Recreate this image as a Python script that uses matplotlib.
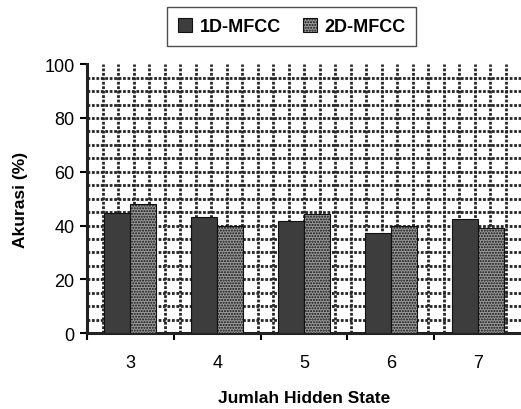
import matplotlib.pyplot as plt
import numpy as np

hidden_states = ["3", "4", "5", "6", "7"]
mfcc_1d = [44.6, 43.3, 41.8, 37.2, 42.5]
mfcc_2d = [48.0, 39.7, 44.3, 39.7, 39.0]
y_ticks = [0, 20, 40, 60, 80, 100]

plt.rcParams['font.family'] = ['Liberation Sans', 'DejaVu Sans']

fig = plt.figure(figsize=(5.21, 4.10), dpi=100)
ax = fig.add_axes([0.167, 0.185, 0.833, 0.656])

x = np.arange(len(hidden_states))
w = 0.3

# background pattern grid (like the Excel "large grid" fill)
for yv in np.arange(5, 100, 5):
    ax.axhline(yv, color='#262626', lw=2.0, ls=(0, (1.0, 0.6)), zorder=0)
for xv in np.linspace(-0.5, 4.5, 29)[1:-1]:
    ax.axvline(xv, color='#262626', lw=2.0, ls=(0, (1.0, 0.6)), zorder=0)

ax.bar(x - w / 2, mfcc_1d, w, color='#3d3d3d', edgecolor='#111111', lw=0.8,
       label='1D-MFCC', zorder=3)
ax.bar(x + w / 2, mfcc_2d, w, color='#9a9a9a', edgecolor='#111111', lw=0.8,
       label='2D-MFCC', zorder=3, hatch='......')

ax.set_xlim(-0.5, 4.5)
ax.set_ylim(0, 100)
ax.set_yticks(y_ticks)
ax.set_xticks(x)
ax.set_xticklabels(hidden_states)
ax.set_xticks(np.arange(-0.5, 4.5, 1), minor=True)
ax.tick_params(axis='x', which='major', length=0, pad=15, labelsize=13)
ax.tick_params(axis='x', which='minor', length=5, width=1.5, direction='out')
ax.tick_params(axis='y', length=5, width=1.5, labelsize=13, pad=4)

for s in ['left', 'bottom']:
    ax.spines[s].set_linewidth(2.2)
    ax.spines[s].set_color('#222222')
ax.spines['top'].set_visible(False)
ax.spines['right'].set_visible(False)

ax.set_ylabel('Akurasi (%)', fontsize=12.5, fontweight='bold', labelpad=12)
ax.set_xlabel('Jumlah Hidden State', fontsize=12.5, fontweight='bold', labelpad=14)

fig.legend(loc='center', bbox_to_anchor=(0.56, 0.932), ncol=2, frameon=True,
           fancybox=False, edgecolor='#222222', handlelength=0.8, handleheight=0.8,
           handletextpad=0.4, columnspacing=1.2, borderpad=0.6,
           prop={'weight': 'bold', 'size': 13})

fig.savefig('out.png', dpi=100)
